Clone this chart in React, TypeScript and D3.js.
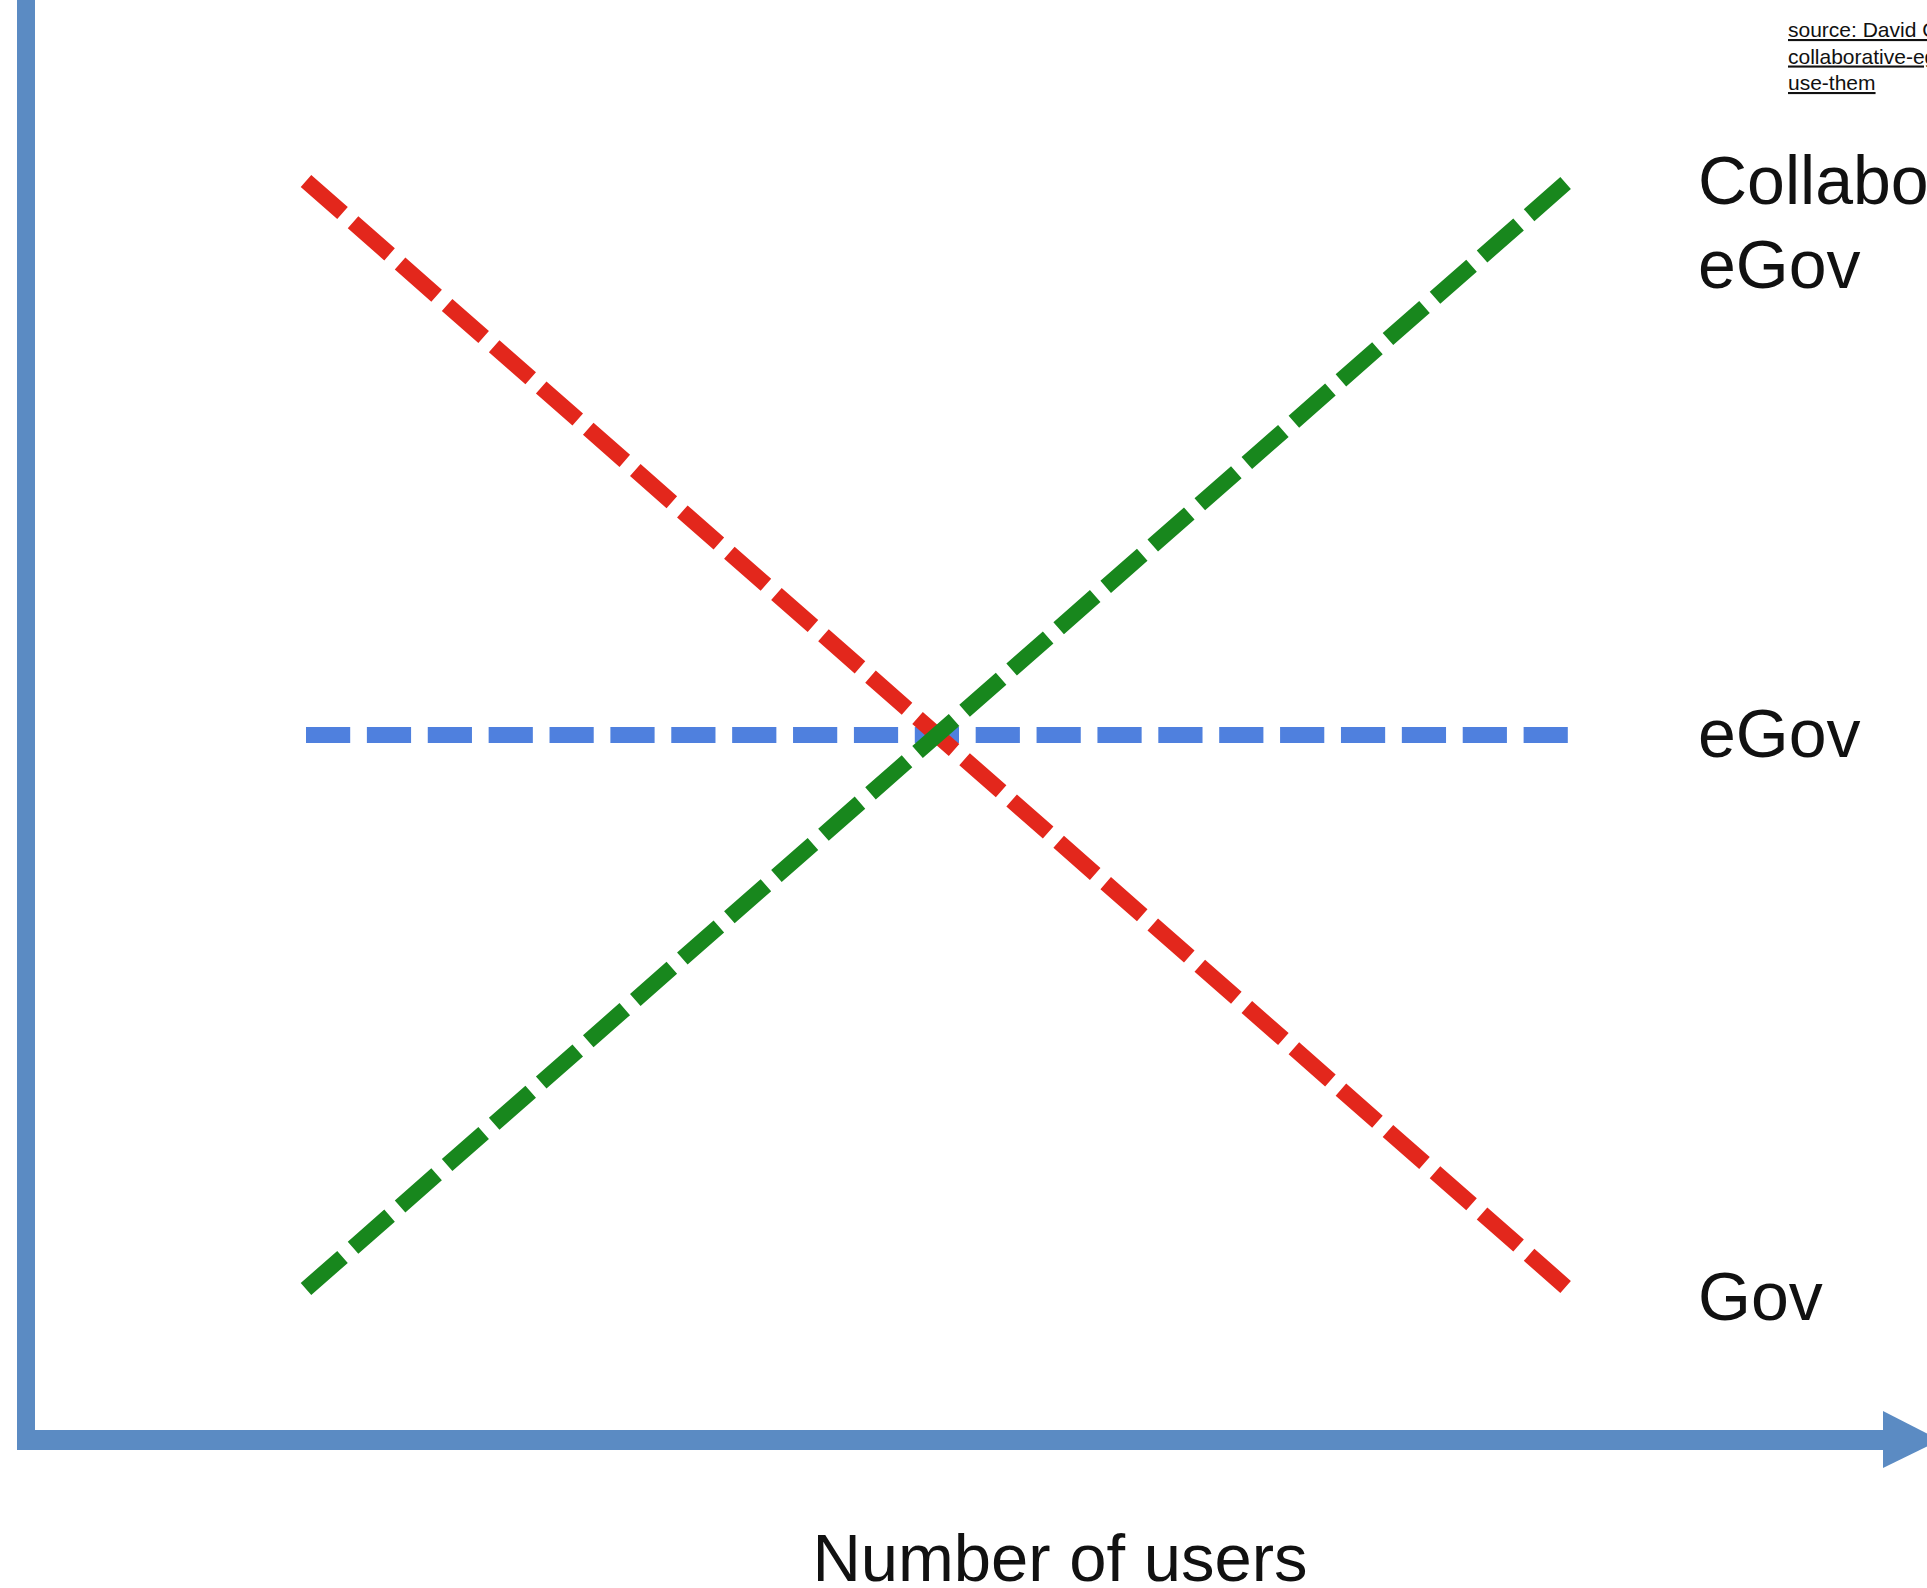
import React from "react";
import * as d3 from "d3";

const W = 1927;
const H = 1588;

// users axis (0 = few, 1 = many)
const users = [0, 1];
const seriesNames = ["Gov", "eGov", "Collaborative eGov"];
const govValues = [1, 0];
const eGovValues = [0.5, 0.5];
const collabValues = [0, 1];
const seriesColors = ["#e3271c", "#4f80de", "#18871d"];
const endLabels = [
  { lines: ["Gov"], value: 0 },
  { lines: ["eGov"], value: 0.5 },
  { lines: ["Collaborative", "eGov"], value: 1 },
];
const xAxisTitle = "Number of users";
const sourceLines = [
  "source: David Osimo, http://www.slideshare.net/osimod/",
  "collaborative-egovernment-what-is-it-and-why-",
  "use-them",
];

export default function App() {
  const x = d3.scaleLinear().domain([0, 1]).range([306, 1568]);
  const y = d3.scaleLinear().domain([0, 1]).range([1289, 181]);
  const line = d3
    .line<[number, number]>()
    .x((d) => x(d[0]))
    .y((d) => y(d[1]));

  const series = [govValues, eGovValues, collabValues].map((vals, i) => ({
    name: seriesNames[i],
    color: seriesColors[i],
    pts: users.map((u, j) => [u, vals[j]] as [number, number]),
  }));

  const axisColor = "#5b8bc3";
  const font = "'Liberation Sans', Arial, Helvetica, sans-serif";

  return (
    <svg
      width={W}
      height={H}
      style={{ position: "absolute", left: 0, top: 0, display: "block", background: "#fff" }}
    >
      {/* axes */}
      <line x1={26} y1={0} x2={26} y2={1450} stroke={axisColor} strokeWidth={18} />
      <line x1={17} y1={1440} x2={1890} y2={1440} stroke={axisColor} strokeWidth={20} />
      <path d="M1883,1411 L1940,1440 L1883,1468 Z" fill={axisColor} />

      {/* series: blue first so red/green cross on top */}
      {[series[1], series[0], series[2]].map((s) => (
        <path
          key={s.name}
          d={line(s.pts) || ""}
          fill="none"
          stroke={s.color}
          strokeWidth={16}
          strokeDasharray={s.name === "eGov" ? "44.2 16.68" : "48.6 14"}
          strokeLinecap="butt"
        />
      ))}

      {/* end labels */}
      {endLabels.map((l) => (
        <text
          key={l.lines.join(" ")}
          x={1698}
          y={l.value === 1 ? 204 : l.value === 0.5 ? 757 : 1320}
          fontFamily={font}
          fontSize={68}
          fill="#111"
        >
          {l.lines.map((t, i) => (
            <tspan key={i} x={1698} dy={i === 0 ? 0 : 84}>
              {t}
            </tspan>
          ))}
        </text>
      ))}

      {/* x axis title */}
      <text x={1060} y={1581} textAnchor="middle" fontFamily={font} fontSize={67} fill="#111">
        {xAxisTitle}
      </text>

      {/* source note */}
      {sourceLines.map((t, i) => (
        <text
          key={i}
          x={1788}
          y={37 + i * 26.5}
          fontFamily={font}
          fontSize={21}
          fill="#111"
          textDecoration="underline"
        >
          {t}
        </text>
      ))}
    </svg>
  );
}
